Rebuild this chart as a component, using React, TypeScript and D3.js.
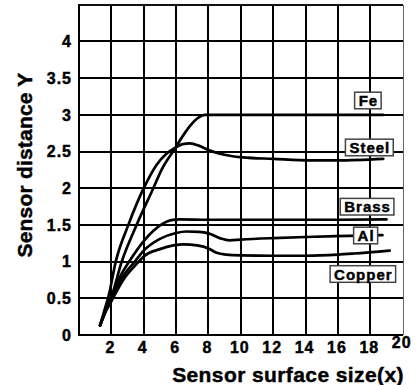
import React, { useEffect, useRef } from "react";
import * as d3 from "d3";

const xTicks = [2, 4, 6, 8, 10, 12, 14, 16, 18, 20];
const yTicks = [0, 0.5, 1, 1.5, 2, 2.5, 3, 3.5, 4];
const seriesNames = ["Fe", "Steel", "Brass", "Al", "Copper"];

const feValues: [number, number][] = [
  [1.3, 0.13], [1.6, 0.32], [2.0, 0.52], [2.64, 1.0], [3.56, 1.5], [4.59, 2.0],
  [5.1, 2.25], [5.93, 2.54], [6.5, 2.74], [6.9, 2.86], [7.3, 2.95], [7.8, 3.0],
  [10, 3.0], [14, 3.0], [18.8, 3.0],
];
const steelValues: [number, number][] = [
  [1.3, 0.13], [1.55, 0.32], [1.85, 0.55], [2.27, 1.0], [3.05, 1.5], [4.0, 2.0],
  [4.8, 2.32], [5.4, 2.47], [5.93, 2.55], [6.4, 2.6], [6.86, 2.61], [7.4, 2.58],
  [8, 2.52], [8.7, 2.47], [10.1, 2.42], [12, 2.4], [14.3, 2.38], [16, 2.38], [18.8, 2.4],
];
const brassValues: [number, number][] = [
  [1.3, 0.13], [1.6, 0.3], [2, 0.5], [2.5, 0.78], [3.1, 1.0], [4, 1.28], [4.6, 1.42],
  [5.2, 1.52], [5.7, 1.565], [6.2, 1.575], [8, 1.57], [12, 1.57], [16, 1.57], [19, 1.575],
];
const alValues: [number, number][] = [
  [1.3, 0.13], [1.6, 0.3], [2, 0.48], [2.6, 0.76], [3.45, 1.0], [4, 1.15], [5, 1.31],
  [6, 1.39], [6.65, 1.41], [7.4, 1.405], [8, 1.385], [8.7, 1.32], [9.3, 1.29], [10, 1.3],
  [12, 1.32], [14, 1.335], [16.7, 1.35], [18.75, 1.36],
];
const copperValues: [number, number][] = [
  [1.3, 0.13], [1.6, 0.3], [2, 0.46], [2.7, 0.74], [3.7, 1.0], [4, 1.07], [5, 1.17],
  [5.83, 1.22], [6.45, 1.235], [7.3, 1.22], [8, 1.18], [8.5, 1.12], [9.1, 1.095],
  [10, 1.085], [12, 1.08], [14, 1.08], [16, 1.095], [17, 1.11], [19.2, 1.15],
];
const seriesValues = [feValues, steelValues, brassValues, alValues, copperValues];

// label anchor (data units) for each series' boxed label
const labelX = [17.88, 17.97, 17.83, 17.74, 17.57];
const labelY = [3.195, 2.555, 1.748, 1.356, 0.831];

const W = 420;
const H = 385;
const L = 79;
const R = 402.7;
const T = 4.7;
const B = 335;

export default function App() {
  const ref = useRef<SVGSVGElement | null>(null);

  useEffect(() => {
    const svg = d3.select(ref.current);
    svg.selectAll("*").remove();
    const x = d3.scaleLinear().domain([0, 20]).range([L, R]);
    const y = d3.scaleLinear().domain([0, 4.5]).range([B, T]);
    const font = "'Liberation Sans', Arial, Helvetica, sans-serif";
    const rx = (v: number) => Math.round(x(v));
    const ry = (v: number) => Math.round(y(v));

    svg.append("rect").attr("width", W).attr("height", H).attr("fill", "#fff");

    const g = svg.append("g").attr("shape-rendering", "crispEdges");
    // vertical grid
    g.selectAll("line.v")
      .data(xTicks.slice(0, -1))
      .join("line")
      .attr("x1", (d) => rx(d)).attr("x2", (d) => rx(d))
      .attr("y1", ry(4.5)).attr("y2", ry(0))
      .attr("stroke", "#000").attr("stroke-width", 2);
    // horizontal grid
    g.selectAll("line.h")
      .data(yTicks.slice(1))
      .join("line")
      .attr("x1", rx(0)).attr("x2", rx(20))
      .attr("y1", (d) => ry(d)).attr("y2", (d) => ry(d))
      .attr("stroke", "#000").attr("stroke-width", 2);
    // frame
    g.append("line").attr("x1", rx(0)).attr("x2", rx(20)).attr("y1", ry(4.5)).attr("y2", ry(4.5))
      .attr("stroke", "#111").attr("stroke-width", 2);
    g.append("line").attr("x1", rx(20)).attr("x2", rx(20)).attr("y1", ry(4.5)).attr("y2", ry(0))
      .attr("stroke", "#666").attr("stroke-width", 1);
    g.append("line").attr("x1", rx(0)).attr("x2", rx(0)).attr("y1", ry(4.5) - 1).attr("y2", ry(0) + 1)
      .attr("stroke", "#000").attr("stroke-width", 2);
    g.append("line").attr("x1", rx(0)).attr("x2", rx(20)).attr("y1", ry(0)).attr("y2", ry(0))
      .attr("stroke", "#000").attr("stroke-width", 2);

    // curves
    const line = d3.line<[number, number]>()
      .x((d) => x(d[0])).y((d) => y(d[1]))
      .curve(d3.curveMonotoneX);
    svg.append("g").selectAll("path")
      .data(seriesValues)
      .join("path")
      .attr("d", (d) => line(d) as string)
      .attr("fill", "none").attr("stroke", "#000").attr("stroke-width", 2.7)
      .attr("stroke-linecap", "round");

    const boldText = (sel: any, size: number, spacing: number) =>
      sel.attr("font-family", font).attr("font-weight", "bold")
        .attr("font-size", size).attr("letter-spacing", spacing)
        .attr("fill", "#000").attr("stroke", "#000").attr("stroke-width", 0.45);

    // labels
    const lg = svg.append("g");
    seriesNames.forEach((name, i) => {
      const cx = x(labelX[i]);
      const cy = y(labelY[i]);
      const rect = lg.append("rect");
      const t = lg.append("text")
        .attr("x", cx).attr("y", cy)
        .attr("text-anchor", "middle")
        .attr("dominant-baseline", "central")
        .text(name);
      boldText(t, 15, 1);
      const bb = (t.node() as SVGTextElement).getBBox();
      rect.attr("x", bb.x - 4).attr("y", cy - 8.3)
        .attr("width", bb.width + 7).attr("height", 16.6)
        .attr("fill", "#fff").attr("stroke", "#444").attr("stroke-width", 1.5);
    });

    // x tick labels
    boldText(
      svg.append("g").selectAll("text")
        .data(xTicks)
        .join("text")
        .attr("x", (d) => x(d) - 1)
        .attr("y", (d) => (d === 20 ? 348 : 353))
        .attr("text-anchor", "middle")
        .text((d) => String(d)),
      16, 1);

    // y tick labels
    boldText(
      svg.append("g").selectAll("text")
        .data(yTicks)
        .join("text")
        .attr("x", 72)
        .attr("y", (d) => y(d))
        .attr("dy", "0.36em")
        .attr("text-anchor", "end")
        .text((d) => String(d)),
      16, 1);

    // axis titles
    boldText(
      svg.append("text")
        .attr("x", 288).attr("y", 382)
        .attr("text-anchor", "middle")
        .text("Sensor surface size(x)"),
      21, 0.4);
    boldText(
      svg.append("text")
        .attr("transform", "translate(32,165) rotate(-90)")
        .attr("text-anchor", "middle")
        .text("Sensor distance Y"),
      21, 0.2);
  }, []);

  return (
    <svg
      ref={ref}
      width={W}
      height={H}
      style={{ position: "absolute", left: 0, top: 0, display: "block" }}
    />
  );
}
